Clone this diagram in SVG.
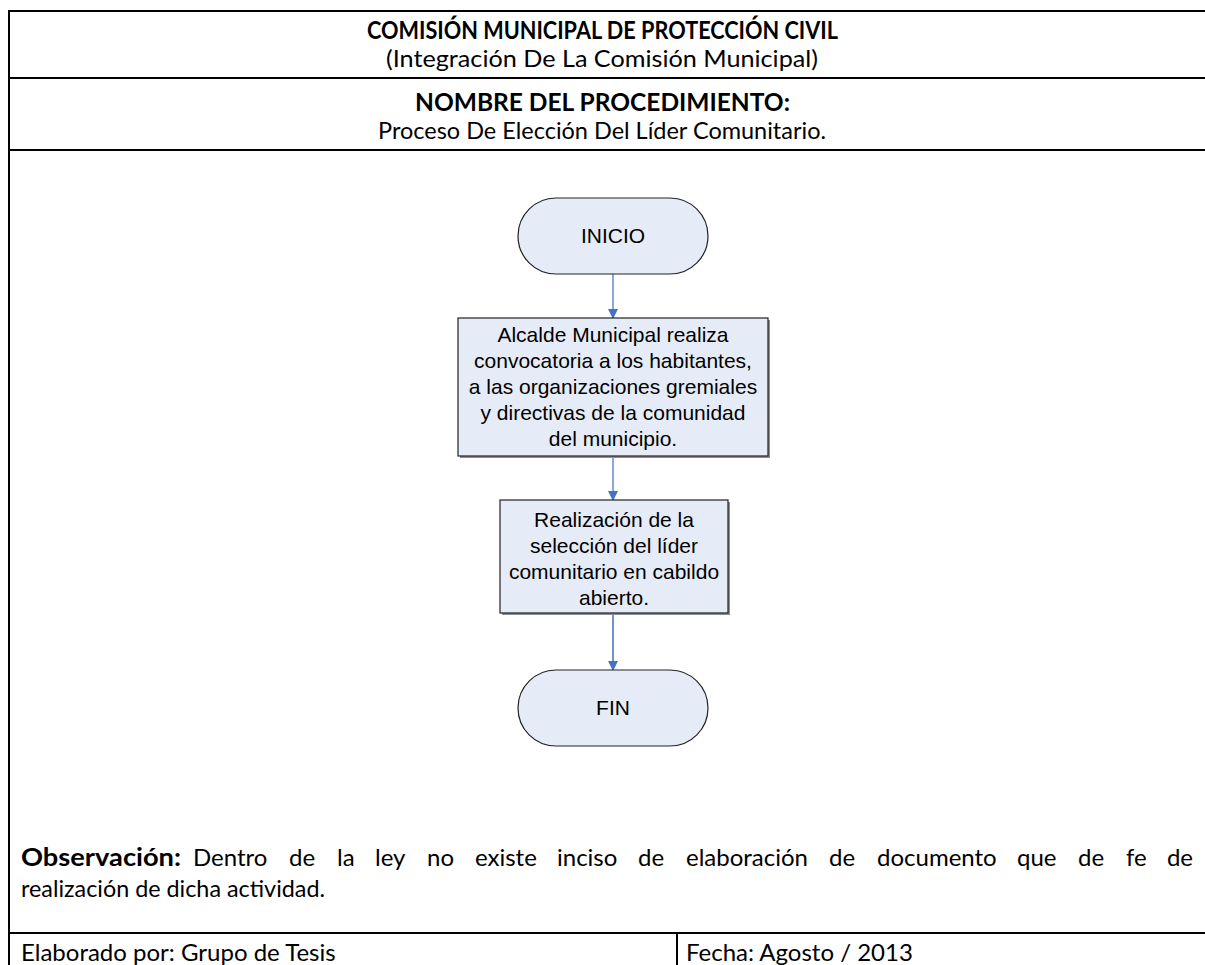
<svg xmlns="http://www.w3.org/2000/svg" width="1205" height="965" viewBox="0 0 1205 965">
<style>
.frame{fill:none;stroke:#000;stroke-width:2}
.cal{font-family:Lato,"Open Sans","Noto Sans",sans-serif;font-size:24px;fill:#000}
.b{font-weight:bold}
.ar{font-family:"Liberation Sans",Arial,sans-serif;font-size:21px;fill:#000;text-anchor:middle}
.node{fill:#E6ECF7;stroke:#222;stroke-width:1.2}
.shadow{fill:#8a8f99}
.conn{stroke:#7F9FD6;stroke-width:1.8;fill:none;marker-end:url(#ah)}
</style>
<defs>
<marker id="ah" markerWidth="10" markerHeight="10" refX="9" refY="5" orient="auto" markerUnits="userSpaceOnUse" viewBox="0 0 10 10">
<path d="M0,0 L10,5 L0,10 z" fill="#4472C4"/>
</marker>
</defs>
<rect width="1205" height="965" fill="#fff"/>
<g id="frame">
<path class="frame" d="M9,966 V11 H1206"/>
<line class="frame" x1="9" y1="78" x2="1206" y2="78"/>
<line class="frame" x1="9" y1="150" x2="1206" y2="150"/>
<line class="frame" x1="9" y1="933" x2="1206" y2="933"/>
<line class="frame" x1="677" y1="933" x2="677" y2="966"/>
</g>
<g id="header">
<text class="cal b" x="367" y="39" textLength="471" lengthAdjust="spacingAndGlyphs">COMISIÓN MUNICIPAL DE PROTECCIÓN CIVIL</text>
<text class="cal" x="386" y="67" textLength="432" lengthAdjust="spacingAndGlyphs">(Integración De La Comisión Municipal)</text>
<text class="cal b" x="415" y="111" textLength="375" lengthAdjust="spacingAndGlyphs">NOMBRE DEL PROCEDIMIENTO:</text>
<text class="cal" x="378" y="139" textLength="448" lengthAdjust="spacingAndGlyphs">Proceso De Elección Del Líder Comunitario.</text>
</g>
<g id="connectors">
<line class="conn" x1="613" y1="274" x2="613" y2="318"/>
<line class="conn" x1="613" y1="456" x2="613" y2="500"/>
<line class="conn" x1="613" y1="613" x2="613" y2="670" style="stroke:#5F87CF"/>
</g>
<g id="inicio">
<rect class="node" x="518" y="198" width="190" height="76" rx="38" ry="38"/>
<text class="ar" x="613" y="243">INICIO</text>
</g>
<g id="paso1">
<rect class="shadow" x="460" y="320" width="310" height="138"/>
<rect class="node" x="458" y="318" width="310" height="138"/>
<text class="ar" x="613" y="342">Alcalde Municipal realiza</text>
<text class="ar" x="613" y="368">convocatoria a los habitantes,</text>
<text class="ar" x="613" y="394">a las organizaciones gremiales</text>
<text class="ar" x="613" y="420">y directivas de la comunidad</text>
<text class="ar" x="613" y="446">del municipio.</text>
</g>
<g id="paso2">
<rect class="shadow" x="502" y="502" width="228" height="113"/>
<rect class="node" x="500" y="500" width="228" height="113"/>
<text class="ar" x="614" y="527">Realización de la</text>
<text class="ar" x="614" y="553">selección del líder</text>
<text class="ar" x="614" y="579">comunitario en cabildo</text>
<text class="ar" x="614" y="605">abierto.</text>
</g>
<g id="fin">
<rect class="node" x="518" y="670" width="190" height="76" rx="38" ry="38"/>
<text class="ar" x="613" y="715">FIN</text>
</g>
<g id="observacion">
<text class="cal b" x="21" y="866" textLength="160" lengthAdjust="spacingAndGlyphs">Observación:</text>
<text class="cal" y="866"><tspan x="193">Dentro</tspan><tspan x="289">de</tspan><tspan x="337">la</tspan><tspan x="375">ley</tspan><tspan x="427">no</tspan><tspan x="475">existe</tspan><tspan x="557">inciso</tspan><tspan x="638">de</tspan><tspan x="686">elaboración</tspan><tspan x="829">de</tspan><tspan x="877">documento</tspan><tspan x="1017">que</tspan><tspan x="1078">de</tspan><tspan x="1126">fe</tspan></text>
<text class="cal" x="1193" y="866" text-anchor="end">de</text>
<text class="cal" x="21" y="897" textLength="304" lengthAdjust="spacingAndGlyphs">realización de dicha actividad.</text>
</g>
<g id="footer">
<text class="cal" x="21" y="961">Elaborado por: Grupo de Tesis</text>
<text class="cal" x="686" y="961">Fecha: Agosto / 2013</text>
</g>
</svg>
